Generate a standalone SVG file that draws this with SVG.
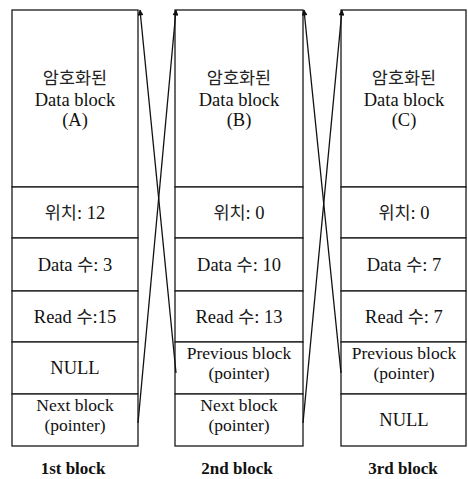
<svg xmlns="http://www.w3.org/2000/svg" width="468" height="479" viewBox="0 0 468 479">
  <style>
    .cell { fill: #ffffff; stroke: #1a1a1a; stroke-width: 1.3; }
    .t { font-family: "Liberation Serif", "Noto Sans CJK KR", serif; font-size: 18.5px; fill: #111; text-anchor: middle; }
    .t2 { font-family: "Liberation Serif", serif; font-size: 17.5px; fill: #111; text-anchor: middle; }
    .k { font-family: "Noto Sans CJK KR", sans-serif; font-size: 17.5px; fill: #222; text-anchor: middle; }
    .cap { font-family: "Liberation Serif", serif; font-size: 17px; font-weight: bold; fill: #111; text-anchor: middle; }
    .link { stroke: #111; stroke-width: 1.3; fill: none; marker-end: url(#arrow); }
  </style>
  <defs>
    <marker id="arrow" viewBox="0 0 10 10" refX="9" refY="5" markerWidth="8" markerHeight="6" markerUnits="userSpaceOnUse" orient="auto">
      <path d="M0,0 L10,5 L0,10 Z" fill="#111"/>
    </marker>
  </defs>

  <!-- 1st block -->
  <g id="block1">
    <rect class="cell" x="12" y="10" width="126" height="177"/>
    <rect class="cell" x="12" y="187" width="126" height="51"/>
    <rect class="cell" x="12" y="238" width="126" height="53"/>
    <rect class="cell" x="12" y="291" width="126" height="51"/>
    <rect class="cell" x="12" y="342" width="126" height="52"/>
    <rect class="cell" x="12" y="394" width="126" height="52"/>
    <text class="k" x="75" y="84">암호화된</text>
    <text class="t" x="75" y="106">Data block</text>
    <text class="t" x="75" y="126">(A)</text>
    <text class="t" x="75" y="219"><tspan class="k">위치</tspan>: 12</text>
    <text class="t" x="75" y="271">Data <tspan class="k">수</tspan>: 3</text>
    <text class="t" x="75" y="323">Read <tspan class="k">수</tspan>:15</text>
    <text class="t" x="75" y="374">NULL</text>
    <text class="t2" x="75" y="411">Next block</text>
    <text class="t2" x="75" y="431">(pointer)</text>
    <text class="cap" x="73" y="474">1st block</text>
  </g>

  <!-- 2nd block -->
  <g id="block2">
    <rect class="cell" x="175" y="10" width="128" height="177"/>
    <rect class="cell" x="175" y="187" width="128" height="51"/>
    <rect class="cell" x="175" y="238" width="128" height="53"/>
    <rect class="cell" x="175" y="291" width="128" height="51"/>
    <rect class="cell" x="175" y="342" width="128" height="52"/>
    <rect class="cell" x="175" y="394" width="128" height="52"/>
    <text class="k" x="239" y="84">암호화된</text>
    <text class="t" x="239" y="106">Data block</text>
    <text class="t" x="239" y="126">(B)</text>
    <text class="t" x="239" y="219"><tspan class="k">위치</tspan>: 0</text>
    <text class="t" x="239" y="271">Data <tspan class="k">수</tspan>: 10</text>
    <text class="t" x="239" y="323">Read <tspan class="k">수</tspan>: 13</text>
    <text class="t2" x="239" y="359">Previous block</text>
    <text class="t2" x="239" y="379">(pointer)</text>
    <text class="t2" x="239" y="411">Next block</text>
    <text class="t2" x="239" y="431">(pointer)</text>
    <text class="cap" x="237" y="474">2nd block</text>
  </g>

  <!-- 3rd block -->
  <g id="block3">
    <rect class="cell" x="341" y="10" width="125" height="177"/>
    <rect class="cell" x="341" y="187" width="125" height="51"/>
    <rect class="cell" x="341" y="238" width="125" height="53"/>
    <rect class="cell" x="341" y="291" width="125" height="51"/>
    <rect class="cell" x="341" y="342" width="125" height="52"/>
    <rect class="cell" x="341" y="394" width="125" height="52"/>
    <text class="k" x="404" y="84">암호화된</text>
    <text class="t" x="404" y="106">Data block</text>
    <text class="t" x="404" y="126">(C)</text>
    <text class="t" x="404" y="219"><tspan class="k">위치</tspan>: 0</text>
    <text class="t" x="404" y="271">Data <tspan class="k">수</tspan>: 7</text>
    <text class="t" x="404" y="323">Read <tspan class="k">수</tspan>: 7</text>
    <text class="t2" x="404" y="359">Previous block</text>
    <text class="t2" x="404" y="379">(pointer)</text>
    <text class="t" x="404" y="426">NULL</text>
    <text class="cap" x="403" y="474">3rd block</text>
  </g>

  <!-- next / previous pointers -->
  <g id="connectors">
    <line class="link" x1="138" y1="423" x2="176" y2="10"/>
    <line class="link" x1="176" y1="373" x2="140" y2="10"/>
    <line class="link" x1="303" y1="423" x2="342" y2="10"/>
    <line class="link" x1="341" y1="373" x2="304" y2="10"/>
  </g>
</svg>
